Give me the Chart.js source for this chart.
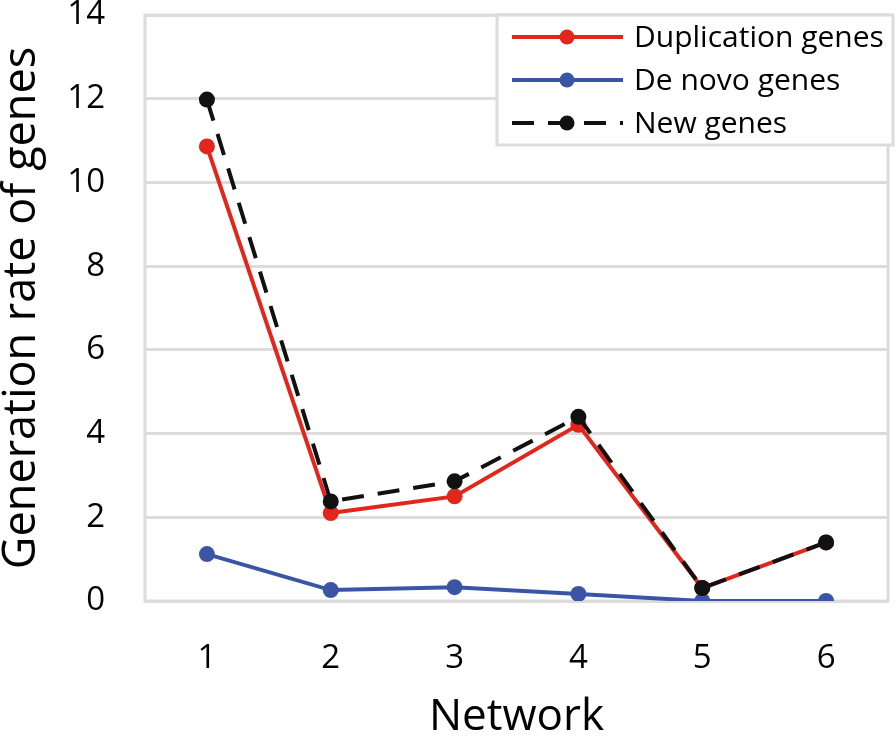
<!DOCTYPE html>
<html>
<head>
<meta charset="utf-8">
<script src="https://cdn.jsdelivr.net/npm/chart.js@4/dist/chart.umd.min.js"></script>
<style>
  html, body { margin: 0; padding: 0; background: #fff; }
  #wrap { width: 896px; height: 744px; }
</style>
</head>
<body>
<div id="wrap"><canvas id="chartOne" width="896" height="744"></canvas></div>
<script>
// data
const networks = ['1', '2', '3', '4', '5', '6'];
const duplicationGenes = [10.86, 2.1, 2.5, 4.21, 0.31, 1.4];
const deNovoGenes = [1.12, 0.26, 0.33, 0.17, 0, 0];
const newGenes = [11.98, 2.38, 2.86, 4.4, 0.31, 1.4];
const yTicks = [0, 2, 4, 6, 8, 10, 12, 14];

const FONT = '"Open Sans", sans-serif';
const gridColor = '#dcdcdc';

// draws the box round the plot area
const boxPlugin = {
    id: 'box',
    beforeDatasetsDraw(chart) {
        const a = chart.chartArea;
        const ctx = chart.ctx;
        ctx.save();
        ctx.strokeStyle = gridColor;
        ctx.lineWidth = 3;
        ctx.strokeRect(a.left, a.top, a.right - a.left, a.bottom - a.top);
        ctx.restore();
    }
};

// legend inside the plot, top right
const boxLegend = {
    id: 'boxLegend',
    afterDraw(chart) {
        const ctx = chart.ctx;
        const x0 = 497, y0 = 15, w = 396, h = 130;
        ctx.save();
        ctx.fillStyle = '#fff';
        ctx.fillRect(x0, y0, w, h);
        ctx.strokeStyle = gridColor;
        ctx.lineWidth = 3;
        ctx.strokeRect(x0, y0, w, h);
        chart.data.datasets.forEach((ds, i) => {
            const y = 37 + i * 43;
            ctx.strokeStyle = ds.borderColor;
            ctx.lineWidth = 4;
            ctx.setLineDash(ds.borderDash || []);
            ctx.beginPath();
            ctx.moveTo(512, y);
            ctx.lineTo(623, y);
            ctx.stroke();
            ctx.setLineDash([]);
            ctx.fillStyle = ds.pointBackgroundColor;
            ctx.beginPath();
            ctx.arc(567, y, 7.5, 0, Math.PI * 2);
            ctx.fill();
            ctx.fillStyle = '#000';
            ctx.font = '30px ' + FONT;
            ctx.textBaseline = 'middle';
            ctx.fillText(ds.label, 634, y + 1);
        });
        ctx.restore();
    }
};

var ctxOne = document.getElementById('chartOne').getContext('2d');
var chartOne = new Chart(ctxOne, {
    type: 'line',
    data: {
        labels: networks,
        datasets: [{
            label: 'Duplication genes',
            data: duplicationGenes,
            borderColor: '#e2261b',
            backgroundColor: '#e2261b',
            pointBackgroundColor: '#e2261b',
            pointBorderWidth: 0,
            pointRadius: 8,
            borderWidth: 4,
            order: 2
        }, {
            label: 'De novo genes',
            data: deNovoGenes,
            borderColor: '#3a55a5',
            backgroundColor: '#3a55a5',
            pointBackgroundColor: '#3a55a5',
            pointBorderWidth: 0,
            pointRadius: 8,
            borderWidth: 4,
            order: 1
        }, {
            label: 'New genes',
            data: newGenes,
            borderColor: '#111',
            backgroundColor: '#111',
            pointBackgroundColor: '#111',
            pointBorderWidth: 0,
            pointRadius: 8,
            borderWidth: 4,
            borderDash: [22, 14],
            order: 0
        }]
    },
    options: {
        responsive: false,
        animation: false,
        layout: { padding: { top: 15, right: 3, left: 0, bottom: 0 } },
        plugins: {
            legend: { display: false },
            tooltip: { enabled: false }
        },
        scales: {
            x: {
                offset: true,
                grid: { display: false, drawTicks: false },
                border: { display: false },
                ticks: { color: '#000', font: { family: FONT, size: 33 }, padding: 38 },
                title: {
                    display: true, text: 'Network', color: '#000',
                    font: { family: FONT, size: 44 }, padding: { top: 0, bottom: 0 }
                },
                afterFit(scale) { scale.height = 143; }
            },
            y: {
                min: 0,
                max: 14,
                afterBuildTicks(scale) { scale.ticks = yTicks.map(v => ({ value: v })); },
                grid: { color: gridColor, lineWidth: 3, drawTicks: false },
                border: { display: false },
                ticks: { color: '#000', font: { family: FONT, size: 33 }, padding: 40 },
                title: {
                    display: true, text: 'Generation rate of genes', color: '#000',
                    font: { family: FONT, size: 45, lineHeight: 1.0 }, padding: { top: 0, bottom: 0 }
                },
                afterFit(scale) {
                    scale.width = 145;
                    scale.paddingTop = 0;
                    scale.paddingBottom = 0;
                }
            }
        }
    },
    plugins: [boxPlugin, boxLegend]
});
</script>
</body>
</html>
